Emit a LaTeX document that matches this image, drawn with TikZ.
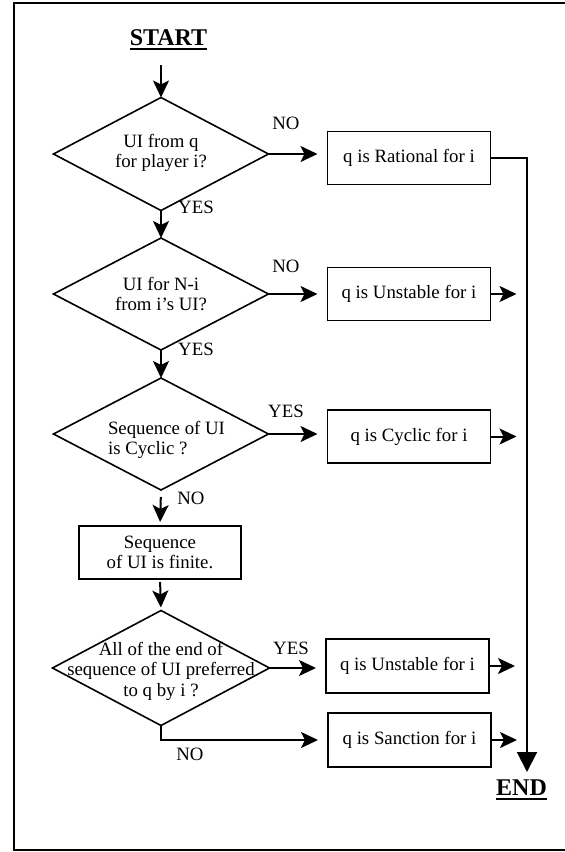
\documentclass[tikz,border=0pt]{standalone}
\usepackage{fontspec}
\setmainfont{Liberation Serif}
\usetikzlibrary{shapes.geometric,arrows.meta}
\newcommand\txtf{\fontsize{18.8}{20.5}\selectfont}
\newcommand\bigf{\fontsize{24}{26}\selectfont\bfseries}
\begin{document}
\begin{tikzpicture}[x=1pt,y=-1pt,
  dia/.style={shape=diamond,draw,line width=1.6pt,minimum width=215pt,minimum height=113pt,inner sep=0pt,outer sep=0pt},
  box/.style={draw,line width=1.6pt,minimum width=163pt,minimum height=53pt,inner sep=0pt,outer sep=0pt,font=\txtf,align=center},
  lbl/.style={font=\txtf,inner sep=0pt},
  dtext/.style={font=\txtf,align=center,inner sep=0pt},
  arr/.style={line width=2pt,-{Stealth[length=17pt,width=16pt,inset=4pt]}},
  endarr/.style={line width=2pt,-{Triangle[length=20pt,width=20pt]}},
  ttl/.style={font=\bigf,inner sep=0pt}]
\useasboundingbox (0,0) rectangle (565,852);
\draw[line width=2pt] (620,3) -- (14,3) -- (14,850) -- (620,850);

% start
\node[ttl,anchor=base] (start) at (168.5,45) {START};
\draw[line width=2pt] ([yshift=-4pt]start.base west) -- ([yshift=-4pt]start.base east);
\coordinate (s0) at (161,65);

% decision 1
\node[dia] (d1) at (161,154) {};
\node[dtext] (t1) at (161,153) {UI from q\\for player i?};
\node[box] (b1) at (409,158) {q is Rational for i};
\node[lbl] (no1) at (286,123) {NO};
\node[lbl] (yes1) at (196,207) {YES};

% decision 2
\node[dia,minimum height=112pt] (d2) at (161,294) {};
\node[dtext] (t2) at (161,294) {UI for N-i\\from i’s UI?};
\node[box] (b2) at (409,294) {q is Unstable for i};
\node[lbl] (no2) at (286,266) {NO};
\node[lbl] (yes2) at (196,349) {YES};

% decision 3
\node[dia,minimum height=112pt] (d3) at (161,434) {};
\node[dtext,align=left] (t3) at (166.5,440) {Sequence of UI\\is Cyclic ?};
\node[box] (b3) at (409,436.5) {q is Cyclic for i};
\node[lbl] (yes3) at (286,411) {YES};
\node[lbl] (no3) at (191,498) {NO};

% process
\node[box,minimum width=162pt] (b4) at (160,552.5) {Sequence\\of UI is finite.};

% decision 5
\node[dia,minimum height=115pt,minimum width=217pt] (d5) at (161,668) {};
\node[dtext] (t5) at (161,671) {All of the end of\\sequence of UI preferred\\to q by i ?};
\node[box,minimum height=54pt] (b5) at (407.5,666) {q is Unstable for i};
\node[box,minimum height=54pt] (b6) at (409.5,740) {q is Sanction for i};
\node[lbl] (yes5) at (291,648) {YES};
\node[lbl] (no5) at (190,754) {NO};

% end
\node[ttl,anchor=base] (end) at (521.5,795) {END};
\draw[line width=2pt] ([yshift=-4pt]end.base west) -- ([yshift=-4pt]end.base east);
\coordinate (endtip) at (527,772);

% connectors
\draw[arr] (s0) -- (d1.north);
\draw[arr,shorten >=10pt] (d1.east) -- (d1.east -| b1.west);
\draw[endarr] (b1.east) -| (endtip);
\draw[arr] (d1.south) -- (d2.north);
\draw[arr,shorten >=10pt] (d2.east) -- (d2.east -| b2.west);
\draw[arr] (b2.east) -- +(26,0);
\draw[arr] (d2.south) -- (d3.north);
\draw[arr,shorten >=10pt] (d3.east) -- (d3.east -| b3.west);
\draw[arr] (b3.east) -- +(26,0);
\draw[arr,shorten <=7pt,shorten >=4pt] (d3.south) -- (b4.north);
\draw[arr,shorten <=3pt,shorten >=3pt] (b4.south) -- (d5.north);
\draw[arr,shorten >=10pt] (d5.east) -- (d5.east -| b5.west);
\draw[arr] (b5.east) -- +(26,0);
\draw[arr,shorten >=10pt] (d5.south) |- (b6.west);
\draw[arr] (b6.east) -- +(26,0);
\end{tikzpicture}
\end{document}
